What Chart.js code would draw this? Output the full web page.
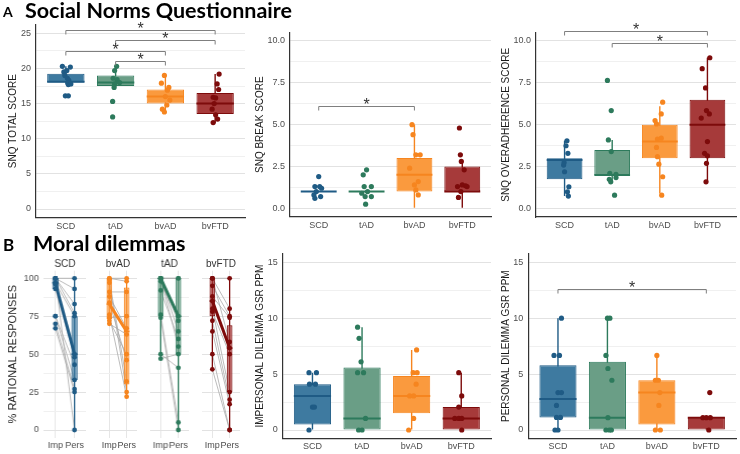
<!DOCTYPE html>
<html>
<head>
<meta charset="utf-8">
<script src="https://cdn.jsdelivr.net/npm/chart.js@4.4.1/dist/chart.umd.min.js"></script>
<style>
  html, body { margin: 0; padding: 0; background: #fff; }
  #fig { position: relative; width: 740px; height: 454px; overflow: hidden; }
  #fig canvas { position: absolute; }
  .hd { position: absolute; z-index: 2; font-family: Lato, sans-serif; font-weight: 700; color: #000; white-space: nowrap; }
</style>
</head>
<body>
<div id="fig">
  <div class="hd" style="left:3px;top:5px;font-size:14px;line-height:14px">A</div>
  <div class="hd" style="left:25px;top:0px;font-size:21.5px;line-height:21px">Social Norms Questionnaire</div>
  <div class="hd" style="left:3px;top:236px;font-size:17px;line-height:17px">B</div>
  <div class="hd" style="left:33px;top:233px;font-size:21.5px;line-height:21px">Moral dilemmas</div>
</div>
<script>
// groups + colours
const groups = ["SCD", "tAD", "bvAD", "bvFTD"]
const darkCol = ["#1f5b85", "#2d7a5c", "#f6851f", "#7d0b0b"]
const fillCol = ["#3e7aa0", "#6a9e86", "#fa9a3e", "#a63a3a"]

// box stats are [q1, median, q3, whisker low, whisker high]
// points are [jitter, value]

// SNQ total score
const totalBox = [[18, 18.1, 19.25, 17.7, 20.3], [17.5, 18, 19, 17.3, 20.3], [15, 16, 17, 13.7, 19], [13.5, 15, 16.5, 12.2, 19.2]]
const totalPts = [
  [[-0.07, 20.3], [0.09, 20.2], [-0.04, 19.5], [0.02, 19.7], [-0.02, 19.0], [0.03, 18.6], [0.06, 18.3], [0.06, 18.0], [0.05, 17.7], [0.1, 17.8], [-0.01, 16.1], [0.05, 16.1]],
  [[0.02, 20.3], [-0.02, 19.7], [-0.05, 18.6], [0.03, 18.4], [0.08, 18.0], [-0.02, 17.8], [-0.03, 17.3], [-0.06, 15.3], [-0.06, 13.1]],
  [[-0.02, 19.0], [-0.08, 17.9], [0.07, 17.3], [0.04, 16.9], [0.0, 16.0], [0.09, 15.5], [0.03, 14.8], [-0.06, 14.2], [-0.02, 13.8]],
  [[0.08, 19.2], [0.04, 17.8], [0.07, 17.0], [-0.04, 15.9], [0.01, 15.8], [-0.02, 15.0], [-0.06, 14.2], [0.01, 13.4], [0.05, 12.8], [-0.04, 12.3]],
]
const totalSig = [[0, 3, 25.4], [1, 3, 24.1], [0, 2, 22.5], [1, 2, 21.1]]
const totalTicks = [0, 2.5, 5, 7.5, 10, 12.5, 15, 17.5, 20, 22.5, 25]
const totalMajors = [0, 5, 10, 15, 20, 25]
const totalLabels = ["0", "5", "10", "15", "20", "25"]

// SNQ break score
const breakBox = [[1, 1, 1, 1, 1], [1, 1, 1, 1, 1], [1, 2, 3, 0, 5], [1, 1, 2.5, 0, 2.8]]
const breakPts = [
  [[0.0, 1.9], [-0.08, 1.3], [0.02, 1.3], [0.06, 1.2], [-0.05, 1.0], [-0.1, 0.8], [0.04, 0.7], [-0.08, 0.6]],
  [[0.0, 2.3], [-0.07, 2.0], [-0.05, 1.3], [0.1, 1.3], [0.02, 1.0], [-0.1, 0.9], [0.1, 0.7], [-0.03, 0.7], [-0.02, 0.25]],
  [[-0.05, 5.0], [-0.03, 4.4], [0.03, 3.2], [0.12, 3.2], [-0.1, 2.4], [0.08, 1.6], [0.0, 1.4], [0.03, 1.1], [0.08, 0.8]],
  [[-0.06, 4.8], [-0.04, 3.2], [-0.02, 2.8], [0.04, 2.3], [-0.1, 1.3], [0.0, 1.4], [0.07, 1.35], [0.1, 1.3], [-0.08, 0.65], [-0.03, 1.0]],
]
const breakSig = [[0, 2, 6.1]]

// SNQ overadherence score
const overBox = [[1.75, 2.9, 3, 0.75, 4.05], [2, 2, 3.5, 1.6, 4.1], [3, 4, 5, 0.9, 6.1], [3, 5, 6.5, 1.6, 9.0]]
const overPts = [
  [[0.05, 4.05], [0.03, 3.75], [0.07, 3.3], [-0.01, 2.75], [-0.02, 2.6], [0.0, 2.2], [0.09, 1.3], [0.06, 1.0], [0.08, 0.75]],
  [[-0.1, 7.65], [-0.02, 5.85], [-0.08, 4.1], [-0.02, 3.4], [-0.05, 2.1], [0.08, 2.05], [0.08, 1.85], [-0.06, 1.75], [-0.03, 1.6], [0.05, 0.8]],
  [[0.06, 6.35], [0.03, 5.65], [-0.1, 5.25], [-0.07, 5.05], [0.03, 4.2], [-0.05, 4.15], [-0.07, 3.65], [-0.05, 3.1], [-0.02, 2.65], [0.06, 1.9], [0.04, 0.8]],
  [[0.05, 9.0], [-0.11, 8.35], [-0.04, 7.2], [-0.02, 5.85], [0.04, 5.65], [-0.13, 5.4], [0.0, 4.0], [-0.06, 3.3], [0.0, 3.15], [-0.02, 2.7], [-0.03, 1.6]],
]
const overSig = [[0, 3, 10.6], [1, 3, 9.85]]
const tenTicks = [0, 1.25, 2.5, 3.75, 5, 6.25, 7.5, 8.75, 10]
const tenMajors = [0, 2.5, 5, 7.5, 10]
const tenLabels = ["0.0", "2.5", "5.0", "7.5", "10.0"]

// impersonal dilemma GSR
const impGsrBox = [[0.5, 3.05, 4.1, 0, 5.13], [0, 1.04, 5.6, 0, 9.2], [1.5, 3.05, 4.84, 0, 7.16], [0, 1.04, 2.05, 0, 5.13]]
const impGsrPts = [
  [[-0.07, 5.13], [0.08, 5.13], [-0.06, 4.1], [0.06, 4.1], [0.0, 2.05], [0.04, 2.05], [-0.07, 0]],
  [[-0.09, 9.2], [-0.06, 8.2], [-0.02, 6.1], [-0.09, 5.13], [0.03, 5.13], [0.07, 1.04], [-0.07, 0], [0.0, 0]],
  [[0.1, 7.16], [0.03, 5.13], [0.11, 5.13], [0.09, 4.1], [-0.04, 3.05], [0.04, 3.05], [0.04, 1.04], [-0.06, 0]],
  [[-0.05, 5.13], [0.01, 3.05], [-0.05, 2.05], [-0.13, 1.04], [-0.05, 1.04], [0.01, 1.04], [0.01, 0]],
]

// personal dilemma GSR
const persGsrBox = [[1.13, 2.77, 5.8, 0, 10], [0, 1.1, 6.1, 0, 10], [0.5, 3.35, 4.45, 0, 6.67], [0, 1.1, 1.15, 0, 1.15]]
const persGsrPts = [
  [[0.07, 10], [-0.08, 6.67], [0.03, 6.67], [0.0, 3.35], [0.07, 3.35], [-0.03, 2.2], [-0.03, 1.13], [0.05, 1.13], [-0.06, 0], [0.0, 0]],
  [[0, 10], [0.05, 10], [-0.03, 6.67], [0.01, 5.5], [0.09, 4.45], [0.01, 1.1], [-0.03, 0], [0.04, 0], [0.08, 0]],
  [[0, 6.67], [-0.03, 4.45], [0.03, 4.45], [0.06, 3.35], [0.04, 2.2], [-0.03, 0], [0.07, 0]],
  [[0.07, 3.35], [-0.07, 1.1], [0, 1.1], [0.08, 1.1], [0.05, 0]],
]
const persGsrSig = [[0, 3, 12.6]]
const gsrTicks = [0, 2.5, 5, 7.5, 10, 12.5, 15]
const gsrMajors = [0, 5, 10, 15]
const gsrLabels = ["0", "5", "10", "15"]

// moral dilemmas, % rational responses (paired imp / pers per subject)
const facetNames = ["SCD", "bvAD", "tAD", "bvFTD"]
const facetCol = [0, 2, 1, 3]
const conds = ["Imp", "Pers"]
const impRational = [
  [100, 100, 100, 100, 100, 97, 96, 93, 75, 75, 70, 67],
  [100, 100, 99, 97, 91, 88, 84, 76, 74, 72, 70],
  [100, 100, 100, 100, 98, 92, 76, 74, 100, 50, 47],
  [100, 100, 100, 95, 88, 85, 80, 78, 72, 65, 50, 40],
]
const persRational = [
  [100, 93, 83, 77, 0, 75, 50, 48, 43, 33, 27, 25],
  [100, 98, 32, 25, 91, 67, 46, 22, 75, 50, 63],
  [100, 100, 75, 65, 72, 60, 5, 0, 55, 41, 50],
  [100, 80, 58, 75, 74, 54, 25, 50, 20, 17, 0, 0],
]
const impRationalBox = [[93, 97, 100, 93, 100], [73, 83, 100, 70, 100], [75, 100, 100, 47, 100], [75, 85, 100, 40, 100]]
const persRationalBox = [[33, 50, 75, 0, 100], [30, 65, 94, 22, 100], [50, 75, 100, 0, 100], [25, 54, 69, 0, 100]]
const pctTicks = [0, 12.5, 25, 37.5, 50, 62.5, 75, 87.5, 100]
const pctMajors = [0, 25, 50, 75, 100]
const pctLabels = ["0", "25", "50", "75", "100"]

Chart.defaults.font.family = "'Liberation Sans', Arial, sans-serif"
Chart.defaults.animation = false
Chart.defaults.plugins.legend.display = false
Chart.defaults.plugins.tooltip.enabled = false

function addCanvas(left, top, w, h) {
  const c = document.createElement("canvas")
  c.width = w
  c.height = h
  c.style.left = left + "px"
  c.style.top = top + "px"
  c.style.width = w + "px"
  c.style.height = h + "px"
  document.getElementById("fig").appendChild(c)
  return c
}

// median line across each box
const medianLines = {
  id: "medianLines",
  afterDatasetDraw(chart, args) {
    const ds = chart.data.datasets[args.index]
    if (!ds.medians) return
    const ctx = chart.ctx
    const y = chart.scales.y
    ctx.save()
    args.meta.data.forEach((bar, i) => {
      const py = y.getPixelForValue(ds.medians[i])
      ctx.strokeStyle = ds.medianColor[i]
      ctx.lineWidth = ds.medianWidth
      ctx.beginPath()
      ctx.moveTo(bar.x - bar.width / 2, py)
      ctx.lineTo(bar.x + bar.width / 2, py)
      ctx.stroke()
    })
    ctx.restore()
  },
}

// significance brackets
function brackets(list) {
  return {
    id: "brackets",
    afterDraw(chart) {
      const { ctx, scales } = chart
      ctx.save()
      ctx.strokeStyle = "#7f7f7f"
      ctx.lineWidth = 1
      ctx.fillStyle = "#333"
      ctx.font = "16px 'Liberation Sans'"
      ctx.textAlign = "center"
      list.forEach(([a, b, v]) => {
        const x1 = scales.x.getPixelForValue(a)
        const x2 = scales.x.getPixelForValue(b)
        const py = Math.round(scales.y.getPixelForValue(v)) + 0.5
        ctx.beginPath()
        ctx.moveTo(x1, py + 4)
        ctx.lineTo(x1, py)
        ctx.lineTo(x2, py)
        ctx.lineTo(x2, py + 4)
        ctx.stroke()
        ctx.fillText("*", (x1 + x2) / 2, py + 3)
      })
      ctx.restore()
    },
  }
}

// facet strip label, centred over the facet plot area
function facetTitle(text) {
  return {
    id: "facetTitle",
    afterDraw(chart) {
      const { ctx, chartArea } = chart
      ctx.save()
      ctx.fillStyle = "#333"
      ctx.font = "10px 'Liberation Sans'"
      ctx.textAlign = "center"
      ctx.textBaseline = "middle"
      ctx.fillText(text, (chartArea.left + chartArea.right) / 2, 14)
      ctx.restore()
    },
  }
}

function yScale(o) {
  return {
    type: "linear",
    min: o.min,
    max: o.max,
    afterBuildTicks: (s) => { s.ticks = o.ticks.map((v) => ({ value: v })) },
    afterFit: (s) => { s.width = o.width },
    ticks: {
      display: o.showTicks,
      autoSkip: false,
      padding: 5,
      color: "#4d4d4d",
      font: { size: 9 },
      callback: (v) => { const k = o.majors.indexOf(v); return k < 0 ? "" : o.labels[k] },
    },
    grid: { drawTicks: false, color: (c) => (o.majors.includes(c.tick.value) ? "#e2e2e2" : "#f0f0f0") },
    border: { display: o.border, color: "#333", width: 1.2 },
    title: { display: !!o.title, text: o.title, color: "#1a1a1a", font: { size: o.titleSize || 10 }, padding: { top: o.titlePad, bottom: 0 } },
  }
}

function xScale(o) {
  return {
    type: "linear",
    min: -0.6,
    max: o.labels.length - 0.4,
    offset: false,
    afterBuildTicks: (s) => { s.ticks = o.labels.map((l, i) => ({ value: i })) },
    afterFit: (s) => { s.height = o.height },
    ticks: { autoSkip: false, maxRotation: 0, padding: 3, color: "#4d4d4d", font: { size: 9 }, callback: (v, i) => o.labels[i] },
    grid: { display: o.grid, offset: false, drawTicks: false, color: "#e6e6e6" },
    border: { display: o.border, color: "#333", width: 1.2 },
  }
}

// page geometry: canvas box, then plot area (x0, x1, y0, y1)
function boxPanel(g, box, pts, sig, yo) {
  const cv = addCanvas(g.left, g.top, g.w, g.h)
  const datasets = []
  pts.forEach((list, k) => {
    datasets.push({
      type: "scatter",
      data: list.map((p) => ({ x: k + p[0], y: p[1] })),
      backgroundColor: darkCol[k],
      borderWidth: 0,
      pointRadius: 2.6,
      order: 0,
    })
  })
  datasets.push({
    type: "bar",
    data: box.map((b, k) => ({ x: k, y: [b[0], b[2]] })),
    medians: box.map((b) => b[1]),
    medianColor: darkCol,
    medianWidth: 2,
    backgroundColor: fillCol,
    borderColor: darkCol,
    borderWidth: 1,
    borderSkipped: false,
    grouped: false,
    barPercentage: 0.75,
    categoryPercentage: 1,
    order: 2,
  })
  datasets.push({
    type: "bar",
    data: box.map((b, k) => ({ x: k, y: [b[3], b[4]] })),
    backgroundColor: darkCol,
    grouped: false,
    maxBarThickness: 1.4,
    order: 3,
  })
  new Chart(cv, {
    type: "bar",
    data: { datasets },
    options: {
      responsive: false,
      layout: { padding: { left: 0, top: g.y0 - g.top, right: g.left + g.w - g.x1, bottom: 0 } },
      scales: {
        x: xScale({ labels: groups, height: g.top + g.h - g.y1, grid: false, border: true }),
        y: yScale(Object.assign({ width: g.x0 - g.left, showTicks: true, border: true }, yo)),
      },
    },
    plugins: [medianLines, brackets(sig)],
  })
}

boxPanel({ left: 0, top: 0, w: 250, h: 236, x0: 36, x1: 245, y0: 24.5, y1: 217.8 }, totalBox, totalPts, totalSig,
  { min: -1.25, max: 26.25, ticks: totalTicks, majors: totalMajors, labels: totalLabels, title: "SNQ TOTAL SCORE", titlePad: 7.3 })
boxPanel({ left: 250, top: 0, w: 245, h: 236, x0: 290, x1: 493.7, y0: 32.6, y1: 216.7 }, breakBox, breakPts, breakSig,
  { min: -0.5, max: 10.5, ticks: tenTicks, majors: tenMajors, labels: tenLabels, title: "SNQ BREAK SCORE", titlePad: 4 })
boxPanel({ left: 495, top: 0, w: 245, h: 236, x0: 536, x1: 739.7, y0: 32.6, y1: 217 }, overBox, overPts, overSig,
  { min: -0.5, max: 10.5, ticks: tenTicks, majors: tenMajors, labels: tenLabels, title: "SNQ OVERADHERENCE SCORE", titlePad: 5.7 })
boxPanel({ left: 250, top: 240, w: 245, h: 214, x0: 282.7, x1: 492.7, y0: 253.9, y1: 438.4 }, impGsrBox, impGsrPts, [],
  { min: -0.75, max: 15.75, ticks: gsrTicks, majors: gsrMajors, labels: gsrLabels, title: "IMPERSONAL DILEMMA GSR PPM", titlePad: 4 })
boxPanel({ left: 495, top: 240, w: 245, h: 214, x0: 528.3, x1: 738.3, y0: 253.9, y1: 438.4 }, persGsrBox, persGsrPts, persGsrSig,
  { min: -0.75, max: 15.75, ticks: gsrTicks, majors: gsrMajors, labels: gsrLabels, title: "PERSONAL DILEMMA GSR PPM", titlePad: 5.7 })

// facet panels for the paired responses
facetNames.forEach((name, f) => {
  const c = facetCol[f]
  const x0 = 43.4 + f * 51.5
  const left = f === 0 ? 0 : x0
  const top = 250
  const w = x0 + 46.2 - left
  const h = 204
  const imp = impRational[f]
  const pers = persRational[f]
  const ib = impRationalBox[f]
  const pb = persRationalBox[f]
  const cv = addCanvas(left, top, w, h)
  const datasets = [
    {
      type: "scatter",
      data: imp.map((v) => ({ x: 0, y: v })).concat(pers.map((v) => ({ x: 1, y: v }))),
      backgroundColor: darkCol[c],
      borderWidth: 0,
      pointRadius: 2.4,
      order: 0,
    },
    {
      type: "line",
      data: [{ x: 0, y: ib[1] }, { x: 1, y: pb[1] }],
      borderColor: darkCol[c],
      borderWidth: 3,
      pointRadius: 0,
      order: 1,
    },
    {
      type: "bar",
      data: [{ x: 0, y: [ib[0], ib[2]] }, { x: 1, y: [pb[0], pb[2]] }],
      medians: [ib[1], pb[1]],
      medianColor: [darkCol[c], darkCol[c]],
      medianWidth: 1.5,
      backgroundColor: fillCol[c] + "b0",
      borderColor: darkCol[c],
      borderWidth: 1,
      borderSkipped: false,
      grouped: false,
      barPercentage: 0.33,
      categoryPercentage: 1,
      order: 2,
    },
    {
      type: "bar",
      data: [{ x: 0, y: [ib[3], ib[4]] }, { x: 1, y: [pb[3], pb[4]] }],
      backgroundColor: darkCol[c],
      grouped: false,
      maxBarThickness: 1.3,
      order: 3,
    },
    {
      type: "line",
      data: imp.flatMap((v, i) => [{ x: 0, y: v }, { x: 1, y: pers[i] }, { x: 1, y: null }]),
      borderColor: "#ababab",
      borderWidth: 0.8,
      pointRadius: 0,
      spanGaps: false,
      order: 4,
    },
  ]
  new Chart(cv, {
    type: "bar",
    data: { datasets },
    options: {
      responsive: false,
      layout: { padding: { left: 0, top: 20.7, right: 0, bottom: 0 } },
      scales: {
        x: xScale({ labels: conds, height: top + h - 437.6, grid: true, border: false }),
        y: yScale({
          min: -5, max: 105, ticks: pctTicks, majors: pctMajors, labels: pctLabels,
          width: x0 - left, showTicks: f === 0, border: false,
          title: f === 0 ? "% RATIONAL RESPONSES" : "", titlePad: 6.4, titleSize: 11,
        }),
      },
    },
    plugins: [medianLines, facetTitle(name)],
  })
})
</script>
</body>
</html>
